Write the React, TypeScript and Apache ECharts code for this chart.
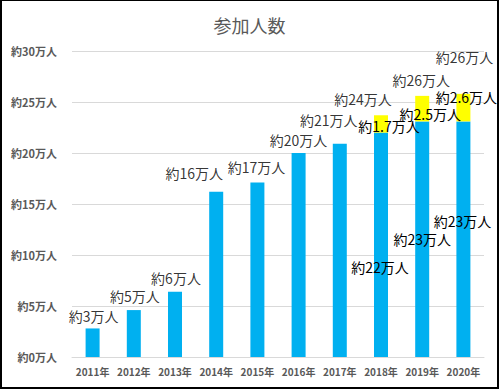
import React, { useEffect, useRef } from "react";
import * as echarts from "echarts";

const categories = ["2011年", "2012年", "2013年", "2014年", "2015年", "2016年", "2017年", "2018年", "2019年", "2020年"];
const baseValues = [2.8, 4.6, 6.4, 16.2, 17.1, 20.0, 20.9, 22.0, 23.1, 23.1];
const extraValues: (number | null)[] = [null, null, null, null, null, null, null, 1.7, 2.5, 2.7];
const totalLabels = ["約3万人", "約5万人", "約6万人", "約16万人", "約17万人", "約20万人", "約21万人", "約24万人", "約26万人", "約26万人"];
const baseLabels: (string | null)[] = [null, null, null, null, null, null, null, "約22万人", "約23万人", "約23万人"];
const extraLabels: (string | null)[] = [null, null, null, null, null, null, null, "約1.7万人", "約2.5万人", "約2.6万人"];
const yTicks = ["約0万人", "約5万人", "約10万人", "約15万人", "約20万人", "約25万人", "約30万人"];

// label placement (style only)
const totalOffsets = [[1, -12], [1, -14], [1, -14], [-22, -19], [-1, -16], [0, -13], [-11, -24], [-18, -16], [-1, -16], [1, -37]];
const baseOffsets = [[0, 0], [0, 0], [0, 0], [0, 0], [0, 0], [0, 0], [0, 0], [-1, 22], [0, 0], [-1, -18]];
const extraOffsets = [[0, 0], [0, 0], [0, 0], [0, 0], [0, 0], [0, 0], [0, 0], [8, 2], [8, 5], [3, -11]];

const FONT = "'Noto Sans CJK JP', 'Noto Sans', sans-serif";

export default function App() {
  const ref = useRef<HTMLDivElement>(null);
  useEffect(() => {
    document.body.style.margin = "0";
    const chart = echarts.init(ref.current!, undefined, { renderer: "svg" });
    const labelStyle = { color: "#000", fontSize: 14, fontFamily: FONT };
    const totals = baseValues.map((v, i) => v + (extraValues[i] ?? 0));
    chart.setOption({
      animation: false,
      title: {
        text: "参加人数",
        left: "center",
        top: 11,
        textStyle: { color: "#595959", fontSize: 18, fontWeight: "normal", fontFamily: FONT },
      },
      grid: { left: 72, right: 15, top: 51, bottom: 32, containLabel: false },
      xAxis: {
        type: "category",
        data: categories,
        axisLine: { lineStyle: { color: "#D9D9D9" } },
        axisTick: { show: false },
        axisLabel: { interval: 0, color: "#595959", fontSize: 10, fontWeight: "bold", fontFamily: FONT, margin: 9 },
      },
      yAxis: {
        type: "value",
        min: 0,
        max: 30,
        interval: 5,
        axisLine: { show: false },
        axisTick: { show: false },
        splitLine: { lineStyle: { color: "#D9D9D9" } },
        axisLabel: {
          color: "#595959",
          fontSize: 11,
          fontWeight: "bold",
          fontFamily: FONT,
          margin: 15,
          formatter: (v: number) => yTicks[Math.round(v / 5)],
        },
      },
      series: [
        {
          type: "bar",
          stack: "s",
          barWidth: 14,
          itemStyle: { color: "#00B0F0" },
          data: baseValues.map((v, i) => ({
            value: v,
            label: baseLabels[i]
              ? { show: true, position: "inside", offset: baseOffsets[i], formatter: baseLabels[i], ...labelStyle }
              : { show: false },
          })),
        },
        {
          type: "bar",
          stack: "s",
          barWidth: 14,
          itemStyle: { color: "#FFFF00" },
          data: extraValues.map((v, i) => ({
            value: v,
            label: extraLabels[i]
              ? { show: true, position: "inside", offset: extraOffsets[i], formatter: extraLabels[i], ...labelStyle }
              : { show: false },
          })),
        },
        {
          type: "scatter",
          symbolSize: 0,
          silent: true,
          z: 5,
          data: totals.map((v, i) => ({
            value: v,
            label: { show: true, position: "inside", offset: totalOffsets[i], formatter: totalLabels[i], ...labelStyle },
          })),
        },
      ],
    });
    return () => chart.dispose();
  }, []);
  return (
    <div
      style={{
        position: "fixed",
        left: 0,
        top: 0,
        width: 499,
        height: 389,
        boxSizing: "border-box",
        borderLeft: "2px solid #000",
        borderRight: "2px solid #000",
        borderBottom: "2px solid #000",
        borderTop: "1px solid #000",
        background: "#fff",
      }}
    >
      <div ref={ref} style={{ position: "absolute", left: -2, top: -1, width: 499, height: 389 }} />
    </div>
  );
}
